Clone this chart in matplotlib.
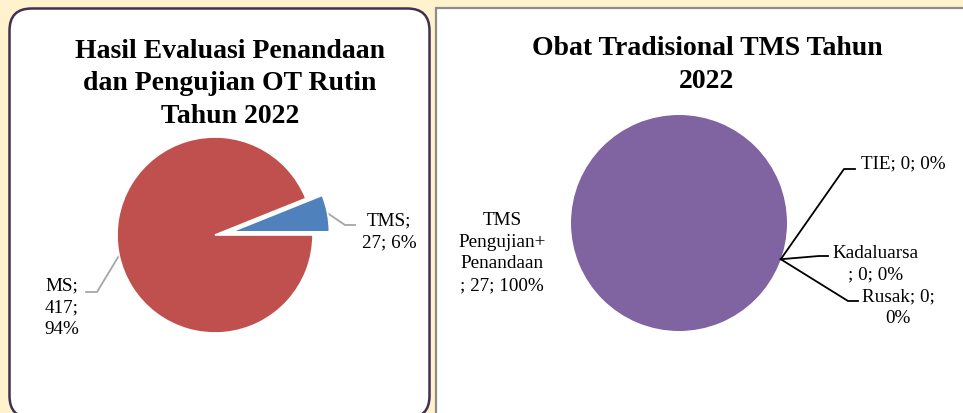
import numpy as np
import matplotlib.pyplot as plt
from matplotlib.patches import FancyBboxPatch, Rectangle

# left chart: routine evaluation
left_labels = ['TMS', 'MS']
left_values = [27, 417]
left_pct = ['6%', '94%']
left_colors = ['#4F81BD', '#C0504D']

# right chart: breakdown of TMS
right_labels = ['TMS\nPengujian+\nPenandaan', 'TIE', 'Kadaluarsa', 'Rusak']
right_values = [27, 0, 0, 0]
right_pct = ['100%', '0%', '0%', '0%']

W, H = 963, 414
fig = plt.figure(figsize=(W / 100, H / 100), dpi=100)
fig.patch.set_facecolor('#FFF2CC')
ax = fig.add_axes([0, 0, 1, 1])
ax.set_facecolor('none')

def fy(y):
    # pixel-from-top -> data y
    return H - y

font = 'Liberation Serif'
tsize = 20
lsize = 13.8
lsp = 1.36
tsp = 1.37

# panels
ax.add_patch(FancyBboxPatch((9.5, fy(419)), 420, 409.5,
                            boxstyle='round,pad=0,rounding_size=22',
                            fc='white', ec='#3F3151', lw=1.8, zorder=1))
ax.add_patch(Rectangle((435.5, fy(430)), 560, 421.5, fc='white', ec='#8C8C8C',
                       lw=1.6, zorder=1))

# ---- left pie ----
cx, cy, R = 215, fy(236), 98
wedges, _ = ax.pie(left_values, colors=left_colors, center=(cx, cy), radius=R,
                   startangle=0, counterclock=True, explode=[0.17 * R, 0],
                   wedgeprops=dict(edgecolor='white', linewidth=1.2))
for w in wedges:
    w.set_zorder(3)

ax.text(230, fy(84), 'Hasil Evaluasi Penandaan\ndan Pengujian OT Rutin\nTahun 2022',
        ha='center', va='center', fontsize=tsize, fontweight='bold', family=font,
        linespacing=tsp, zorder=4)

# leader lines from the wedge edges
grey = '#A6A6A6'
w_tms = wedges[0]
mid = np.deg2rad((w_tms.theta1 + w_tms.theta2) / 2)
c0 = w_tms.center
px, py = c0[0] + R * np.cos(mid), c0[1] + R * np.sin(mid)
ax.plot([px, 345, 355], [py, fy(226), fy(226)], color=grey, lw=1.3, zorder=2)
ax.text(389, fy(232), '%s;\n%d; %s' % (left_labels[0], left_values[0], left_pct[0]),
        ha='center', va='center', fontsize=lsize, family=font, linespacing=lsp)

a = np.deg2rad(192)
px, py = cx + R * np.cos(a), cy + R * np.sin(a)
ax.plot([px, 97, 86], [py, fy(293), fy(293)], color=grey, lw=1.3, zorder=2)
ax.text(62, fy(308), '%s;\n%d;\n%s' % (left_labels[1], left_values[1], left_pct[1]),
        ha='center', va='center', fontsize=lsize, family=font, linespacing=lsp)

# ---- right pie ----
cx2, cy2, R2 = 679, fy(224), 108
wedges2, _ = ax.pie(right_values, colors=['#8064A2'] * 4, center=(cx2, cy2),
                    radius=R2, startangle=-19.6, counterclock=False)
for w in wedges2:
    w.set_zorder(3)

ax.text(707, fy(65), 'Obat Tradisional TMS Tahun\n2022', ha='center', va='center',
        fontsize=tsize, fontweight='bold', family=font, linespacing=tsp, zorder=4)

ax.text(502, fy(253), '%s\n; %d; %s' % (right_labels[0], right_values[0], right_pct[0]),
        ha='center', va='center', fontsize=lsize, family=font, linespacing=lsp)

ang = np.deg2rad(wedges2[1].theta1)
ax0 = cx2 + R2 * np.cos(ang)
ay0 = cy2 + R2 * np.sin(ang)
# TIE
ax.plot([ax0, 844, 855], [ay0, fy(170), fy(170)], color='black', lw=1.3, zorder=4)
ax.text(861, fy(164), '%s; %d; %s' % (right_labels[1], right_values[1], right_pct[1]),
        ha='left', va='center', fontsize=lsize, family=font)
# Kadaluarsa
ax.plot([ax0, 819, 828], [ay0, fy(257), fy(257)], color='black', lw=1.3, zorder=4)
ax.text(876, fy(264), '%s\n; %d; %s' % (right_labels[2], right_values[2], right_pct[2]),
        ha='center', va='center', fontsize=lsize, family=font, linespacing=lsp)
# Rusak
ax.plot([ax0, 848, 858], [ay0, fy(302), fy(302)], color='black', lw=1.3, zorder=4)
ax.text(898, fy(308), '%s; %d;\n%s' % (right_labels[3], right_values[3], right_pct[3]),
        ha='center', va='center', fontsize=lsize, family=font, linespacing=lsp)

ax.set_xlim(0, W)
ax.set_ylim(0, H)
ax.set_aspect('equal')
ax.axis('off')

fig.savefig('out.png', dpi=100, facecolor=fig.get_facecolor())
